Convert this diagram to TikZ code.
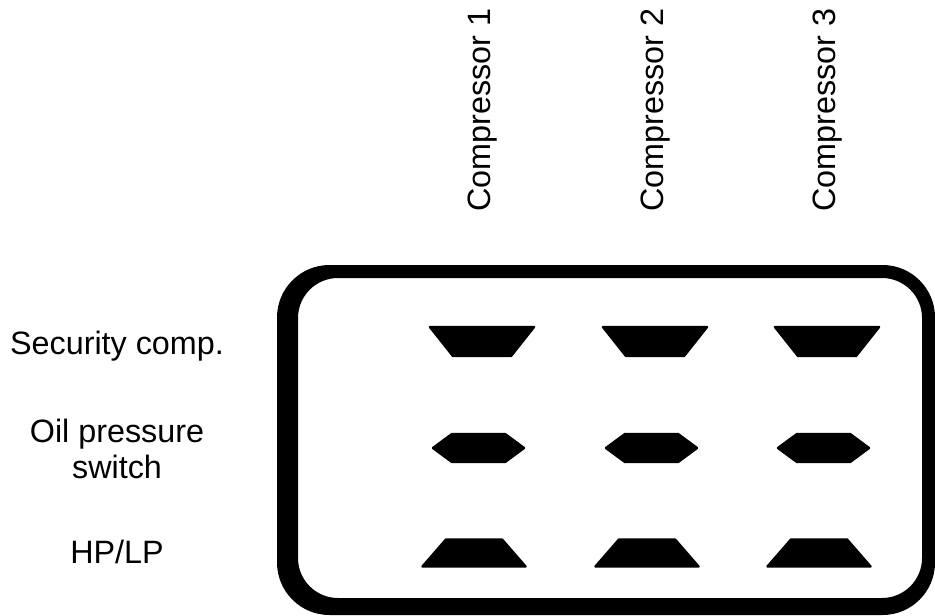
\documentclass[tikz,border=0pt]{standalone}
\usepackage{fontspec}
\setmainfont{Liberation Sans}
\tikzset{
  valve/.style={fill=black, draw=black, line width=1.4pt, line join=round},
  rowlabel/.style={font=\fontsize{18.4}{20.8}\selectfont, align=center, inner sep=0pt},
  collabel/.style={rowlabel, rotate=90, anchor=base west},
}
% one valve symbol per row, centred at (#1,#2)
\newcommand{\secvalve}[2]{
  \filldraw[valve] (#1-52,#2-14.5) -- (#1+52,#2-14.5) -- (#1+29,#2+14.5) -- (#1-29,#2+14.5) -- cycle;
}
\newcommand{\oilvalve}[2]{
  \filldraw[valve] (#1-45.5,#2) -- (#1-26.5,#2-14) -- (#1+26.5,#2-14) -- (#1+45.5,#2)
    -- (#1+26.5,#2+14) -- (#1-26.5,#2+14) -- cycle;
}
\newcommand{\hpvalve}[2]{
  \filldraw[valve] (#1-28,#2-13.5) -- (#1+28,#2-13.5) -- (#1+51.5,#2+13.5) -- (#1-51.5,#2+13.5) -- cycle;
}

\begin{document}
\begin{tikzpicture}[x=0.02cm, y=-0.02cm]
\useasboundingbox (0,0) rectangle (935,615);
% frame
\fill[even odd rule] [rounded corners=1.05cm] (277,265) rectangle (935,615)
  [rounded corners=0.8cm] (298,278) rectangle (922,598);
% row labels
\node[rowlabel, anchor=base] (sec) at (117,354) {Security comp.};
\node[rowlabel] (oil) at (117,449) {Oil pressure\\switch};
\node[rowlabel, anchor=base] (hplp) at (117,563) {HP/LP};
% columns
\foreach \x [count=\i] in {482,655,827} {
  \node[collabel] (comp\i) at (\x+8,212) {Compressor \i};
  \secvalve{\x}{341.5}
  \oilvalve{\x-3.5}{448}
  \hpvalve{\x-8}{553}
}
\end{tikzpicture}
\end{document}
